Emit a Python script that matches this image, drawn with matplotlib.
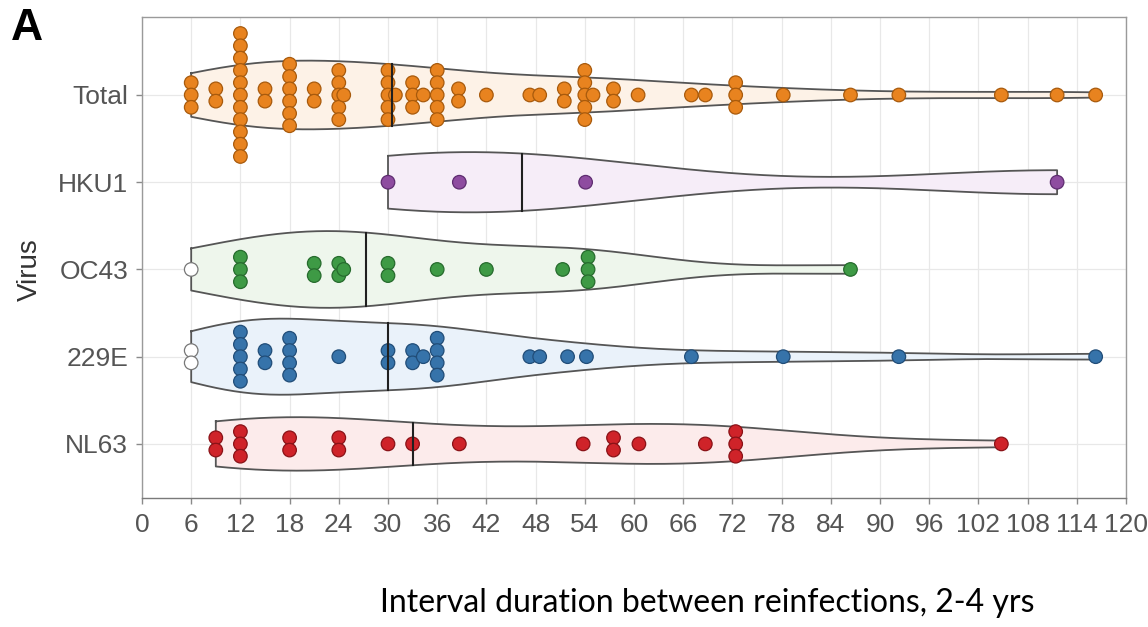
import numpy as np
import matplotlib
matplotlib.use("Agg")
import matplotlib.pyplot as plt

# ---------------- data (months) ----------------
categories = ["Total", "HKU1", "OC43", "229E", "NL63"]

total = [6, 6, 6, 9, 9,
         12, 12, 12, 12, 12, 12, 12, 12, 12, 12, 12,
         15, 15, 18, 18, 18, 18, 18, 18, 21, 21,
         24, 24, 24, 24, 24, 24.6,
         30, 30, 30, 30, 30, 30.9, 33, 33, 33, 34.3,
         36, 36, 36, 36, 36, 38.6, 38.6, 42, 47.3, 48.5, 51.5, 51.5,
         54, 54, 54, 54, 54, 55, 57.5, 57.5, 60.5, 67, 68.7,
         72.4, 72.4, 72.4, 78.2, 86.4, 92.3, 104.8, 111.6, 116.3]
hku1 = [30, 38.7, 54.1, 111.6]
oc43 = [6, 12, 12, 12, 21, 21, 24, 24, 24.6, 30, 30, 36, 42, 51.3,
        54.4, 54.4, 54.4, 86.4]
e229 = [6, 6, 12, 12, 12, 12, 12, 15, 15, 18, 18, 18, 18, 24, 30, 30,
        33, 33, 34.3, 36, 36, 36, 36, 47.3, 48.5, 51.9, 54.2,
        67, 78.2, 92.3, 116.3]
nl63 = [9, 9, 12, 12, 12, 18, 18, 24, 24, 30, 33, 38.7, 53.8,
        57.5, 57.5, 60.6, 68.7, 72.4, 72.4, 72.4, 104.8]

# values drawn as open (white) points
open_points = {"OC43": [6], "229E": [6, 6]}

x_ticks = list(range(0, 121, 6))

dot_colors = ["#E8831F", "#8E4CA0", "#3E9A45", "#3673AA", "#CF2329"]
dot_edges = ["#A85A0C", "#5E2C70", "#266B2D", "#214D78", "#8A1217"]
fill_colors = ["#FDF2E7", "#F6EDF8", "#EEF6EC", "#EAF2FA", "#FCEBEB"]

series = [total, hku1, oc43, e229, nl63]

# ---------------- figure ----------------
W, H = 1148, 627
fig = plt.figure(figsize=(W / 100, H / 100), dpi=100)
ax = fig.add_axes([142 / W, 1 - 498 / H, (1126 - 142) / W, (498 - 17) / H])
ax.set_xlim(0, 120)
ax.set_ylim(4.62, -0.894)


def kde(vals, grid):
    v = np.asarray(vals, float)
    n = len(v)
    sd = v.std(ddof=1)
    q75, q25 = np.percentile(v, [75, 25])
    lo = min(sd, (q75 - q25) / 1.34)
    if lo <= 0:
        lo = sd
    bw = 0.9 * lo * n ** -0.2
    z = (grid[:, None] - v[None, :]) / bw
    return np.exp(-0.5 * z ** 2).sum(1) / (n * bw * np.sqrt(2 * np.pi))


grids, dens = [], []
for vals in series:
    g = np.linspace(min(vals), max(vals), 400)
    grids.append(g)
    dens.append(kde(vals, g))
dmax = max(d.max() for d in dens)

step = 0.141  # vertical spacing of stacked dots (category units)
for i, (name, vals) in enumerate(zip(categories, series)):
    g, d = grids[i], dens[i]
    hw = 0.44 * d / dmax
    ax.fill_between(g, i - hw, i + hw, color=fill_colors[i], zorder=1, lw=0)
    ax.plot(np.r_[g, g[::-1], g[0]], np.r_[i - hw, (i + hw)[::-1], i - hw[0]],
            color="#555555", lw=1.3, zorder=2)
    med = np.median(vals)
    mh = np.interp(med, g, hw)
    ax.plot([med, med], [i - mh, i + mh], color="#202020", lw=1.5, zorder=5)

    v = np.asarray(vals, float)
    offs = np.zeros(len(v))
    for u in np.unique(v):
        idx = np.where(v == u)[0]
        offs[idx] = (np.arange(len(idx)) - (len(idx) - 1) / 2) * step
    face = np.array([dot_colors[i]] * len(v), dtype=object)
    edge = np.array([dot_edges[i]] * len(v), dtype=object)
    for ov in open_points.get(name, []):
        for j in np.where(v == ov)[0]:
            face[j] = "white"
            edge[j] = "#777777"
    ax.scatter(v, i + offs, s=95, c=list(face), edgecolors=list(edge),
               linewidths=0.9, zorder=4)

# ---------------- axes styling ----------------
ax.set_xticks(x_ticks)
ax.set_xticklabels([str(t) for t in x_ticks])
ax.set_yticks(range(len(categories)))
ax.set_yticklabels(categories)
ax.grid(True, color="#e8e8e8", lw=0.9)
ax.set_axisbelow(True)
for s in ax.spines.values():
    s.set_color("#9a9a9a")
    s.set_linewidth(1.0)
ax.spines["bottom"].set_color("#7a7a7a")
ax.tick_params(axis="both", colors="#8a8a8a", length=4, width=1.0,
               labelcolor="#555555", labelsize=19)
ax.tick_params(axis="x", pad=7)
ax.tick_params(axis="y", pad=6)
for lab in ax.get_xticklabels() + ax.get_yticklabels():
    lab.set_family("Liberation Sans")

ax.set_ylabel("Virus", fontsize=20, color="#333333", family="Liberation Sans")
ax.yaxis.set_label_coords(-0.101, 0.474)

fig.text(11 / W, 1 - 28 / H, "A", fontsize=32, fontweight="bold",
         family="Liberation Sans", va="center", ha="left")
fig.text(707 / W, 1 - 603 / H, "Interval duration between reinfections, 2-4 yrs",
         fontsize=23, family="Lato", ha="center", va="center", color="black")

fig.savefig("out.png", dpi=100)
